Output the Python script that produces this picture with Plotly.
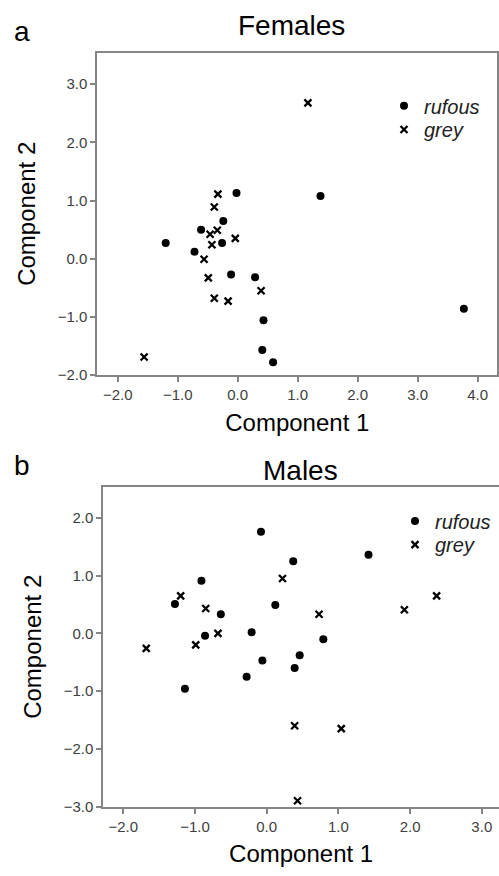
import plotly.graph_objects as go

# ---- Data: Females (panel a) ----
fem_rufous_x = [-0.02, -0.24, -0.61, -1.20, -0.26, -0.72, -0.11, 0.29, 0.43, 0.41, 0.59, 1.38, 3.77]
fem_rufous_y = [1.13, 0.65, 0.50, 0.27, 0.27, 0.12, -0.27, -0.32, -1.06, -1.57, -1.78, 1.08, -0.86]
fem_grey_x = [1.17, -0.33, -0.39, -0.46, -0.34, -0.43, -0.04, -0.56, -0.49, 0.39, -0.39, -0.16, -1.56]
fem_grey_y = [2.68, 1.11, 0.89, 0.42, 0.49, 0.24, 0.35, -0.01, -0.33, -0.55, -0.68, -0.73, -1.69]

# ---- Data: Males (panel b) ----
male_rufous_x = [-0.08, 0.37, -0.91, -1.28, 0.12, -0.64, -0.86, -0.21, -0.06, -0.28, 0.46, 0.39, -1.14, 1.42, 0.79]
male_rufous_y = [1.76, 1.25, 0.91, 0.51, 0.49, 0.33, -0.04, 0.02, -0.47, -0.75, -0.38, -0.60, -0.96, 1.36, -0.10]
male_grey_x = [0.22, -1.20, -0.85, -1.68, -0.99, -0.68, 0.39, 0.43, 2.37, 1.92, 0.73, 1.04]
male_grey_y = [0.95, 0.65, 0.43, -0.26, -0.20, 0.00, -1.60, -2.90, 0.65, 0.41, 0.33, -1.65]

fem_x_ticks = [-2.0, -1.0, 0.0, 1.0, 2.0, 3.0, 4.0]
fem_y_ticks = [-2.0, -1.0, 0.0, 1.0, 2.0, 3.0]
male_x_ticks = [-2.0, -1.0, 0.0, 1.0, 2.0, 3.0]
male_y_ticks = [-3.0, -2.0, -1.0, 0.0, 1.0, 2.0]

W, H = 499, 876
FONT = "Liberation Sans, Arial, sans-serif"
LINE = "#858585"

dot = dict(symbol="circle", size=8, color="black")
cross = dict(symbol="x-thin-open", size=7, color="black", line=dict(width=2.3, color="black"))

fig = go.Figure()
fig.add_trace(go.Scatter(x=fem_rufous_x, y=fem_rufous_y, mode="markers", name="rufous",
                         marker=dot, xaxis="x", yaxis="y", legend="legend"))
fig.add_trace(go.Scatter(x=fem_grey_x, y=fem_grey_y, mode="markers", name="grey",
                         marker=cross, xaxis="x", yaxis="y", legend="legend2"))
fig.add_trace(go.Scatter(x=male_rufous_x, y=male_rufous_y, mode="markers", name="rufous",
                         marker=dot, xaxis="x2", yaxis="y2", legend="legend3"))
fig.add_trace(go.Scatter(x=male_grey_x, y=male_grey_y, mode="markers", name="grey",
                         marker=cross, xaxis="x2", yaxis="y2", legend="legend4"))

def px(v):
    return v / W

def py(v):
    return 1 - v / H

axis_common = dict(showgrid=False, zeroline=False, showline=True, linecolor=LINE, linewidth=2,
                   ticks="outside", ticklen=5, tickwidth=1.5, tickcolor=LINE,
                   tickfont=dict(family=FONT, size=15, color="#404040"),
                   tickformat=".1f")

def legend_at(xp, yp):
    return dict(x=px(xp), y=py(yp), xanchor="left", yanchor="top",
                bgcolor="rgba(0,0,0,0)", borderwidth=0, itemwidth=30,
                font=dict(family=FONT, size=20, style="italic", color="#222"))

fig.update_layout(
    width=W, height=H,
    margin=dict(l=0, r=0, t=0, b=0),
    paper_bgcolor="white", plot_bgcolor="white",
    font=dict(family=FONT, color="black"),
    xaxis=dict(axis_common, domain=[px(97.3), px(497.3)], range=[-2.34, 4.327],
               tickvals=fem_x_ticks, anchor="y", mirror=True,
               title=dict(text="Component 1", font=dict(size=24, family=FONT), standoff=12)),
    yaxis=dict(axis_common, domain=[py(378.5), py(53)], range=[-2.0, 3.545],
               tickvals=fem_y_ticks, anchor="x", mirror=True,
               title=dict(text="Component 2", font=dict(size=24, family=FONT), standoff=15)),
    xaxis2=dict(axis_common, domain=[px(103.3), 1.0], range=[-2.279, 3.24],
                tickvals=male_x_ticks, anchor="y2", mirror=True,
                title=dict(text="Component 1", font=dict(size=24, family=FONT), standoff=12)),
    yaxis2=dict(axis_common, domain=[py(814), py(491.5)], range=[-3.0, 2.535],
                tickvals=male_y_ticks, anchor="x2", mirror=False,
                title=dict(text="Component 2", font=dict(size=24, family=FONT), standoff=15)),
    legend=legend_at(384, 87),
    legend2=legend_at(384, 111),
    legend3=legend_at(395, 506),
    legend4=legend_at(395, 530),
    showlegend=True,
    annotations=[
        dict(text="Females", x=px(291), y=py(26), xref="paper", yref="paper",
             xanchor="center", yanchor="middle",
             showarrow=False, font=dict(size=28, family=FONT, color="black")),
        dict(text="Males", x=px(300), y=py(475), xref="paper", yref="paper",
             xanchor="center", yanchor="middle",
             showarrow=False, font=dict(size=28, family=FONT, color="black")),
        dict(text="a", x=px(22), y=py(32), xref="paper", yref="paper",
             xanchor="center", yanchor="middle",
             showarrow=False, font=dict(size=28, family=FONT, color="black")),
        dict(text="b", x=px(22), y=py(470), xref="paper", yref="paper",
             xanchor="center", yanchor="middle",
             showarrow=False, font=dict(size=28, family=FONT, color="black")),
    ],
)

fig.write_html("out.html", config={"displayModeBar": False},
               post_script="document.body.style.margin='0';document.body.style.overflow='hidden';")
